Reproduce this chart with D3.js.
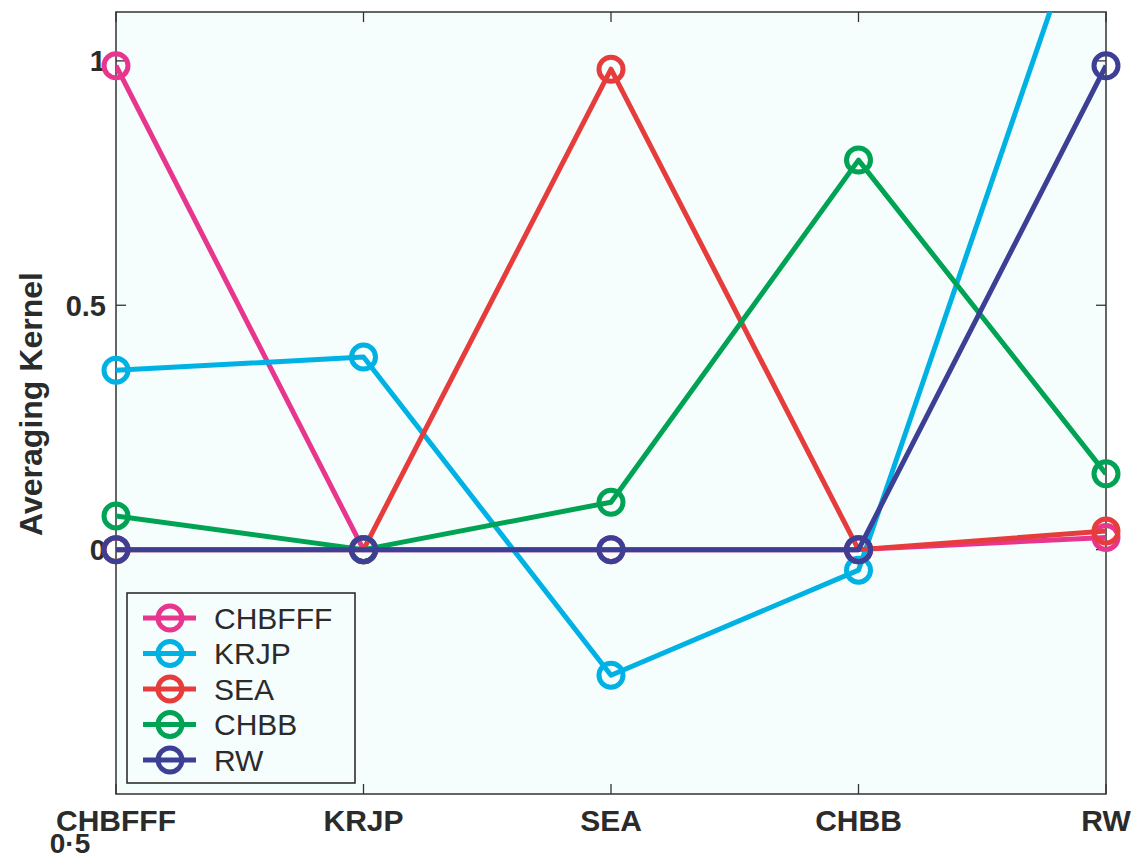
<!DOCTYPE html>
<html><head><meta charset="utf-8">
<script src="https://d3js.org/d3.v7.min.js"></script>
<style>body{margin:0;background:#fff}svg{display:block}</style>
</head><body>
<script>
const categories = ["CHBFFF","KRJP","SEA","CHBB","RW"];
const seriesNames = ["CHBFFF","KRJP","SEA","CHBB","RW"];
const seriesColors = ["#e8368f","#00b2e3","#e63c3c","#00a353","#3d3f95"];
const CHBFFF = [0.99, 0.0, 0.0, 0.0, 0.025];
const KRJP   = [0.367, 0.394, -0.257, -0.042, 1.435];
const SEA    = [0.0, 0.0, 0.983, 0.0, 0.038];
const CHBB   = [0.069, 0.0, 0.097, 0.797, 0.155];
const RW     = [0.0, 0.0, 0.0, 0.0, 0.99];
const seriesValues = [CHBFFF, KRJP, SEA, CHBB, RW];
const yTicks = [0, 0.5, 1];
const yTickLabels = ["0", "0.5", "1"];
const bottomLabel = "0·5";

const W = 1137, H = 857;
const L = 116, R = 1106, T = 12, B = 794;
const svg = d3.select("body").append("svg").attr("width", W).attr("height", H);

const x = d3.scalePoint().domain(categories).range([L, R]);
const y = d3.scaleLinear().domain([-0.5, 1.1]).range([B, T]);

svg.append("rect").attr("x", L).attr("y", T).attr("width", R - L).attr("height", B - T)
  .attr("fill", "#f6fdfd");

svg.append("defs").append("clipPath").attr("id", "clip")
  .append("rect").attr("x", L).attr("y", T).attr("width", R - L).attr("height", B - T);

const font = "'Liberation Sans', Arial, Helvetica, sans-serif";
const dark = "#2b2b2b";

// ticks
const tickLen = 10;
const gTicks = svg.append("g").attr("stroke", "#333").attr("stroke-width", 1.3);
yTicks.forEach(v => {
  gTicks.append("line").attr("x1", L).attr("x2", L + tickLen).attr("y1", y(v)).attr("y2", y(v));
  gTicks.append("line").attr("x1", R).attr("x2", R - tickLen).attr("y1", y(v)).attr("y2", y(v));
});
categories.forEach(c => {
  gTicks.append("line").attr("x1", x(c)).attr("x2", x(c)).attr("y1", B).attr("y2", B - tickLen);
  gTicks.append("line").attr("x1", x(c)).attr("x2", x(c)).attr("y1", T).attr("y2", T + tickLen);
});

// frame
svg.append("rect").attr("x", L).attr("y", T).attr("width", R - L).attr("height", B - T)
  .attr("fill", "none").attr("stroke", "#333").attr("stroke-width", 1.5);

// tick labels
yTicks.forEach((v, i) => {
  svg.append("text").attr("x", 106).attr("y", y(v)).attr("dy", "0.36em")
    .attr("text-anchor", "end").attr("font-family", font).attr("font-weight", "bold")
    .attr("font-size", 29).attr("fill", dark).text(yTickLabels[i]);
});
categories.forEach(c => {
  svg.append("text").attr("x", x(c)).attr("y", 831)
    .attr("text-anchor", "middle").attr("font-family", font).attr("font-weight", "bold")
    .attr("font-size", 30).attr("fill", dark).text(c);
});
svg.append("text").attr("x", 70).attr("y", 853).attr("text-anchor", "middle")
  .attr("font-family", font).attr("font-weight", "bold").attr("font-size", 28)
  .attr("fill", dark).text(bottomLabel);

svg.append("text").attr("transform", `translate(42,${(268+540)/2}) rotate(-90)`)
  .attr("text-anchor", "middle").attr("font-family", font).attr("font-weight", "bold")
  .attr("font-size", 32).attr("fill", dark).text("Averaging Kernel");

// series
const line = d3.line().x((d, i) => x(categories[i])).y(d => y(d));
const gLines = svg.append("g");
const [y0, y1] = y.domain();
seriesValues.forEach((vals, si) => {
  const g = gLines.append("g");
  g.append("path").datum(vals).attr("d", line).attr("fill", "none")
    .attr("clip-path", "url(#clip)")
    .attr("stroke", seriesColors[si]).attr("stroke-width", 5).attr("stroke-linejoin", "round");
  g.selectAll("circle").data(vals.map((v, i) => ({v, i})).filter(d => d.v >= y0 && d.v <= y1))
    .join("circle")
    .attr("cx", d => x(categories[d.i])).attr("cy", d => y(d.v)).attr("r", 12)
    .attr("fill", "none").attr("stroke", seriesColors[si]).attr("stroke-width", 5);
});

// legend
const lx = 127, ly = 593, lw = 228, lh = 190;
const leg = svg.append("g");
leg.append("rect").attr("x", lx).attr("y", ly).attr("width", lw).attr("height", lh)
  .attr("fill", "#f6fdfd").attr("stroke", "#222").attr("stroke-width", 1.5);
seriesNames.forEach((n, i) => {
  const cy = 618 + i * 35.5;
  leg.append("line").attr("x1", 143).attr("x2", 196).attr("y1", cy).attr("y2", cy)
    .attr("stroke", seriesColors[i]).attr("stroke-width", 5);
  leg.append("circle").attr("cx", 170).attr("cy", cy).attr("r", 12)
    .attr("fill", "none").attr("stroke", seriesColors[i]).attr("stroke-width", 5);
  leg.append("text").attr("x", 214).attr("y", cy).attr("dy", "0.36em")
    .attr("font-family", font).attr("font-size", 30).attr("fill", dark).text(n);
});
</script>
</body></html>
